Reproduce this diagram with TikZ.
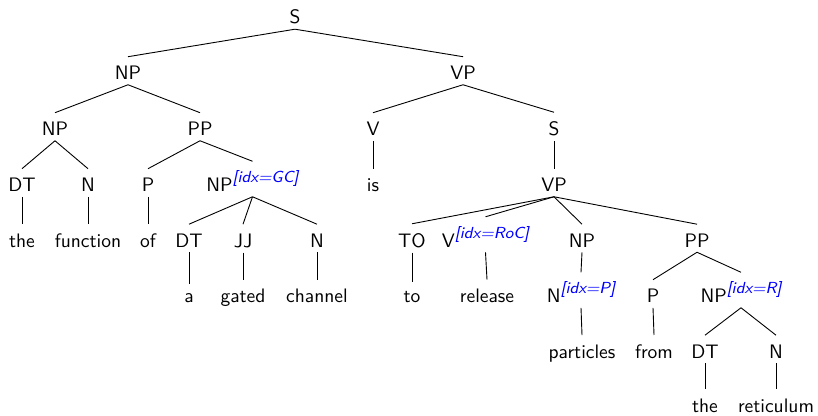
\documentclass[tikz,border=0pt]{standalone}
\tikzset{
  tn/.style={font=\sffamily, scale=1.95, anchor=base, inner ysep=2.5pt, inner xsep=1pt},
  br/.style={line width=0.9pt, black}
}
\newcommand\ix[1]{\raisebox{4.6pt}{\fontsize{8.2}{9}\selectfont\itshape\color{blue}[idx=#1]}}
\begin{document}
\begin{tikzpicture}[x=1pt,y=-1pt]
\useasboundingbox (0,0) rectangle (818,415);
% row 0
\node[tn] (s0) at (295,23.5) {S};
% row 1
\node[tn] (np1) at (128,79.5) {NP};
\node[tn] (vp1) at (463,79.5) {VP};
% row 2
\node[tn] (np2) at (55,135.5) {NP};
\node[tn] (pp2) at (200,135.5) {PP};
\node[tn] (v2) at (373,135.5) {V};
\node[tn] (s2) at (554,135.5) {S};
% row 3
\node[tn] (dt3) at (22,191.5) {DT};
\node[tn] (n3) at (88,191.5) {N};
\node[tn] (p3) at (148,191.5) {P};
\node[tn] (npgc) at (252.5,191.5) {NP\ix{GC}};
\node[tn] (is3) at (373,191.5) {is};
\node[tn] (vp3) at (554,191.5) {VP};
% row 4
\node[tn] (the4) at (22,247) {the};
\node[tn] (fun4) at (88,247) {function};
\node[tn] (of4) at (148,247) {of};
\node[tn] (dt4) at (189,247) {DT};
\node[tn] (jj4) at (243,247) {JJ};
\node[tn] (n4) at (317,247) {N};
\node[tn] (to4) at (412,247) {TO};
\node[tn] (vroc) at (485.5,247) {V\ix{RoC}};
\node[tn] (np4) at (582,247) {NP};
\node[tn] (pp4) at (697,247) {PP};
% row 5
\node[tn] (a5) at (189,302.5) {a};
\node[tn] (gated5) at (243,302.5) {gated};
\node[tn] (chan5) at (317,302.5) {channel};
\node[tn] (to5) at (412,302.5) {to};
\node[tn] (rel5) at (487,302.5) {release};
\node[tn] (np5) at (581,302.5) {N\ix{P}};
\node[tn] (p5) at (653,302.5) {P};
\node[tn] (npr) at (741,302.5) {NP\ix{R}};
% row 6
\node[tn] (part6) at (582,358) {particles};
\node[tn] (from6) at (654,358) {from};
\node[tn] (dt6) at (705,358) {DT};
\node[tn] (n6) at (776,358) {N};
% row 7
\node[tn] (the7) at (705,412) {the};
\node[tn] (ret7) at (776,412) {reticulum};
% edges
\foreach \p/\c in {s0/np1, s0/vp1, np1/np2, np1/pp2, vp1/v2, vp1/s2,
  np2/dt3, np2/n3, pp2/p3, pp2/npgc, v2/is3, s2/vp3,
  dt3/the4, n3/fun4, p3/of4, npgc/dt4, npgc/jj4, npgc/n4,
  vp3/to4, vp3/vroc, vp3/np4, vp3/pp4,
  dt4/a5, jj4/gated5, n4/chan5, to4/to5, vroc/rel5, np4/np5, pp4/p5, pp4/npr,
  np5/part6, p5/from6, npr/dt6, npr/n6, dt6/the7, n6/ret7}
  \draw[br] (\p.south) -- ([yshift=4pt]\c.north);
\end{tikzpicture}
\end{document}
